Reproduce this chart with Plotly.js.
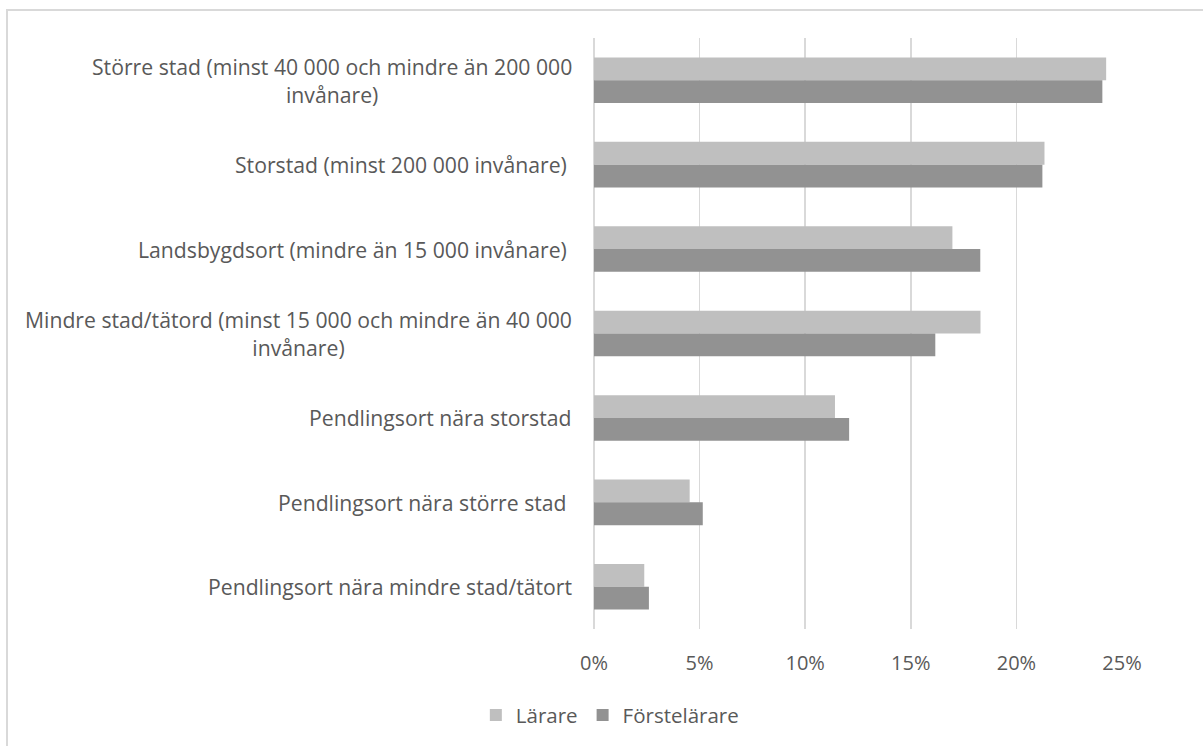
<!DOCTYPE html>
<html>
<head>
<meta charset="utf-8">
<script src="https://cdn.plot.ly/plotly-3.0.1.min.js"></script>
<style>
  html, body { margin: 0; padding: 0; background: #ffffff; overflow: hidden; }
  #wrap { position: relative; width: 1203px; height: 746px; }
  #chart { position: absolute; left: 0; top: 0; width: 1203px; height: 746px; }
  #frame {
    position: absolute; left: 6px; top: 9px; width: 1400px; height: 1000px;
    border-left: 2px solid #d9d9d9; border-top: 2px solid #d9d9d9;
    pointer-events: none;
  }
</style>
</head>
<body>
<div id="wrap">
  <div id="chart"></div>
  <div id="frame"></div>
</div>
<script>
// Ortstyp, listed top to bottom
const categories = [
  "Större stad (minst 40 000 och mindre än 200 000<br>invånare)",
  "Storstad (minst 200 000 invånare)\u00a0",
  "Landsbygdsort (mindre än 15 000 invånare)\u00a0",
  "Mindre stad/tätord (minst 15 000 och mindre än 40 000<br>invånare)",
  "Pendlingsort nära storstad",
  "Pendlingsort nära större stad\u00a0",
  "Pendlingsort nära mindre stad/tätort"
];

// Share of respondents, percent
const larare        = [24.25, 21.33, 16.97, 18.30, 11.41, 4.53, 2.38];
const forstelarare  = [24.07, 21.23, 18.29, 16.16, 12.08, 5.15, 2.60];

const seriesNames = ["Lärare", "Förstelärare"];
const xTicks = [0, 5, 10, 15, 20, 25];

const FONT = "'Open Sans', Lato, sans-serif";
const TEXT = "#595959";

const traces = [
  {
    type: "bar", orientation: "h", name: seriesNames[0],
    y: categories, x: larare,
    marker: { color: "#bfbfbf" },
    hoverinfo: "skip"
  },
  {
    type: "bar", orientation: "h", name: seriesNames[1],
    y: categories, x: forstelarare,
    marker: { color: "#929292" },
    hoverinfo: "skip"
  }
];

// Category labels: centred lines, right edge just left of the plot
const labelAnnotations = categories.map(c => ({
  xref: "paper", yref: "y",
  x: 0, y: c,
  xanchor: "right", yanchor: "middle",
  xshift: -20,
  align: "center",
  text: c,
  showarrow: false,
  font: { family: FONT, size: 21.2, color: TEXT }
}));

const layout = {
  width: 1203, height: 746,
  margin: { l: 594, r: 81, t: 38, b: 116 },
  paper_bgcolor: "rgba(0,0,0,0)",
  plot_bgcolor: "rgba(0,0,0,0)",
  barmode: "group",
  bargap: 0.46,
  bargroupgap: 0,
  font: { family: FONT, color: TEXT, size: 20 },
  xaxis: {
    range: [0, 25.0001],
    tickvals: xTicks,
    ticktext: xTicks.map(v => v + "%"),
    showgrid: true, gridcolor: "#d9d9d9", gridwidth: 1.5,
    zeroline: true, zerolinecolor: "#d9d9d9", zerolinewidth: 1.5,
    showline: false,
    ticks: "",
    ticklabelstandoff: 20,
    tickfont: { family: FONT, size: 20, color: TEXT },
    fixedrange: true
  },
  yaxis: {
    type: "category",
    categoryorder: "array",
    categoryarray: categories,
    autorange: "reversed",
    showticklabels: false,
    showgrid: false, zeroline: false, showline: false, ticks: "",
    fixedrange: true
  },
  showlegend: true,
  legend: {
    orientation: "h",
    traceorder: "normal",
    x: 0.03, xanchor: "center",
    y: -0.144, yanchor: "middle",
    font: { family: FONT, size: 20.5, color: TEXT },
    itemclick: false, itemdoubleclick: false
  },
  annotations: labelAnnotations
};

Plotly.newPlot("chart", traces, layout, { displayModeBar: false, staticPlot: true });
</script>
</body>
</html>
